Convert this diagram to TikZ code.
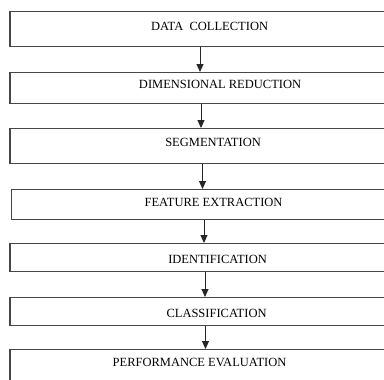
\documentclass[tikz,border=0pt]{standalone}
\usepackage{fontspec}
\setmainfont{Liberation Serif}
\usetikzlibrary{arrows.meta}
\begin{document}
\begin{tikzpicture}[x=1pt,y=-1pt,
  stage/.style={draw=black!72, line width=1.1pt, rectangle, inner sep=0pt,
    anchor=north west, text height=8.3pt, text depth=0pt,
    font=\fontsize{12.5}{15}\selectfont},
  flow/.style={draw=black!85, line width=1pt, -{Triangle[length=8pt,width=7pt]}}]
  \useasboundingbox (0,0) rectangle (384,380);
  \clip (0,0) rectangle (384,380);

  % process stages, top to bottom
  \node[stage, minimum width=399pt, minimum height=35pt, text depth=6pt]
    (s1) at (9.5,11) {DATA\ \ COLLECTION};
  \node[stage, minimum width=420pt, minimum height=31pt, text depth=7pt]
    (s2) at (9.5,72) {DIMENSIONAL REDUCTION};
  \node[stage, minimum width=406pt, minimum height=35pt, text depth=7pt]
    (s3) at (9.5,128) {SEGMENTATION};
  \node[stage, minimum width=404pt, minimum height=30pt, text depth=4pt]
    (s4) at (11,189) {FEATURE EXTRACTION};
  \node[stage, minimum width=415pt, minimum height=28pt, text height=12.3pt]
    (s5) at (9.5,243) {IDENTIFICATION};
  \node[stage, minimum width=413pt, minimum height=28pt, text height=12.3pt]
    (s6) at (9.5,297) {CLASSIFICATION};
  \node[stage, minimum width=379pt, minimum height=38pt, text depth=12pt]
    (s7) at (9.5,349) {PERFORMANCE EVALUATION};

  % arrow columns
  \coordinate (c1) at (200,0);
  \coordinate (c2) at (201,0);
  \coordinate (c3) at (202.5,0);
  \coordinate (c4) at (204,0);
  \coordinate (c5) at (205,0);
  \coordinate (c6) at (205.5,0);

  \draw[flow] (s1.south -| c1) -- (s2.north -| c1);
  \draw[flow] (s2.south -| c2) -- (s3.north -| c2);
  \draw[flow] (s3.south -| c3) -- (s4.north -| c3);
  \draw[flow] (s4.south -| c4) -- (s5.north -| c4);
  \draw[flow] (s5.south -| c5) -- (s6.north -| c5);
  \draw[flow] (s6.south -| c6) -- (s7.north -| c6);
\end{tikzpicture}
\end{document}
